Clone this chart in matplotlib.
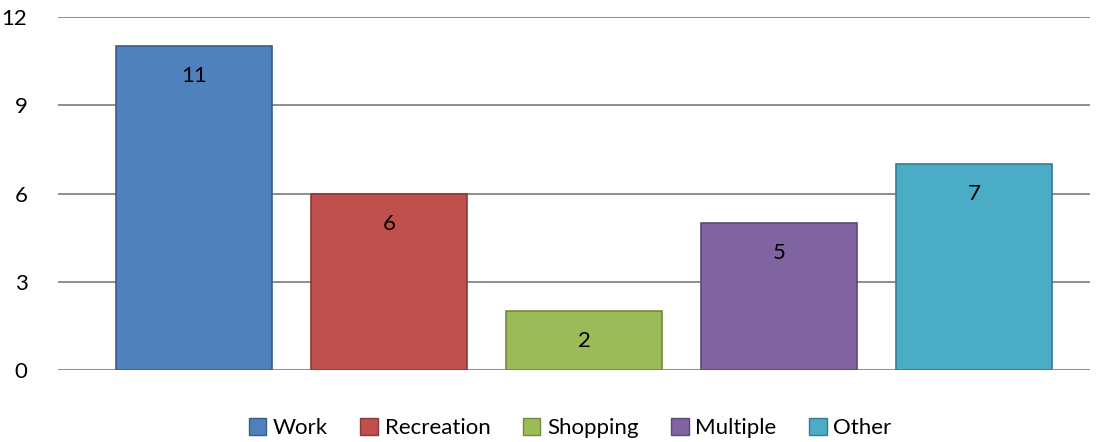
import matplotlib.pyplot as plt
from matplotlib.patches import Patch

categories = ["Work", "Recreation", "Shopping", "Multiple", "Other"]
values = [11, 6, 2, 5, 7]
colors = ["#4F81BD", "#C0504D", "#9BBB59", "#8064A2", "#4BACC6"]
edges = ["#385D8A", "#8C3836", "#71893F", "#5C4776", "#357D91"]

plt.rcParams['font.family'] = ['Lato', 'DejaVu Sans']

fig = plt.figure(figsize=(11.02, 4.42), dpi=100)
ax = fig.add_axes([58 / 1102, 1 - 370 / 442, 1032 / 1102, 353 / 442])

x = range(len(categories))
bars = ax.bar(x, values, width=0.8, color=colors, edgecolor=edges, linewidth=1.2, zorder=3)

for b, v in zip(bars, values):
    ax.annotate(str(v), (b.get_x() + b.get_width() / 2, v), xytext=(0, -30),
                textcoords='offset pixels', ha='center', va='center', fontsize=16)

ax.set_xlim(-0.697, 4.595)
ax.set_ylim(0, 12)
ax.set_yticks([0, 3, 6, 9, 12])
ax.set_xticks([])
ax.yaxis.grid(True, color="#868686", linewidth=1.3, zorder=0)
ax.tick_params(axis='y', length=0, labelsize=16, pad=22)
for s in ax.spines.values():
    s.set_visible(False)

handles = [Patch(facecolor=c, edgecolor=e, label=n) for c, e, n in zip(colors, edges, categories)]
fig.legend(handles=handles, loc='center', bbox_to_anchor=(570 / 1102, 1 - 428 / 442), ncol=5,
           frameon=False, fontsize=16, handlelength=0.8, handleheight=0.8, handletextpad=0.3,
           columnspacing=1.45)

fig.savefig("out.png", dpi=100)
